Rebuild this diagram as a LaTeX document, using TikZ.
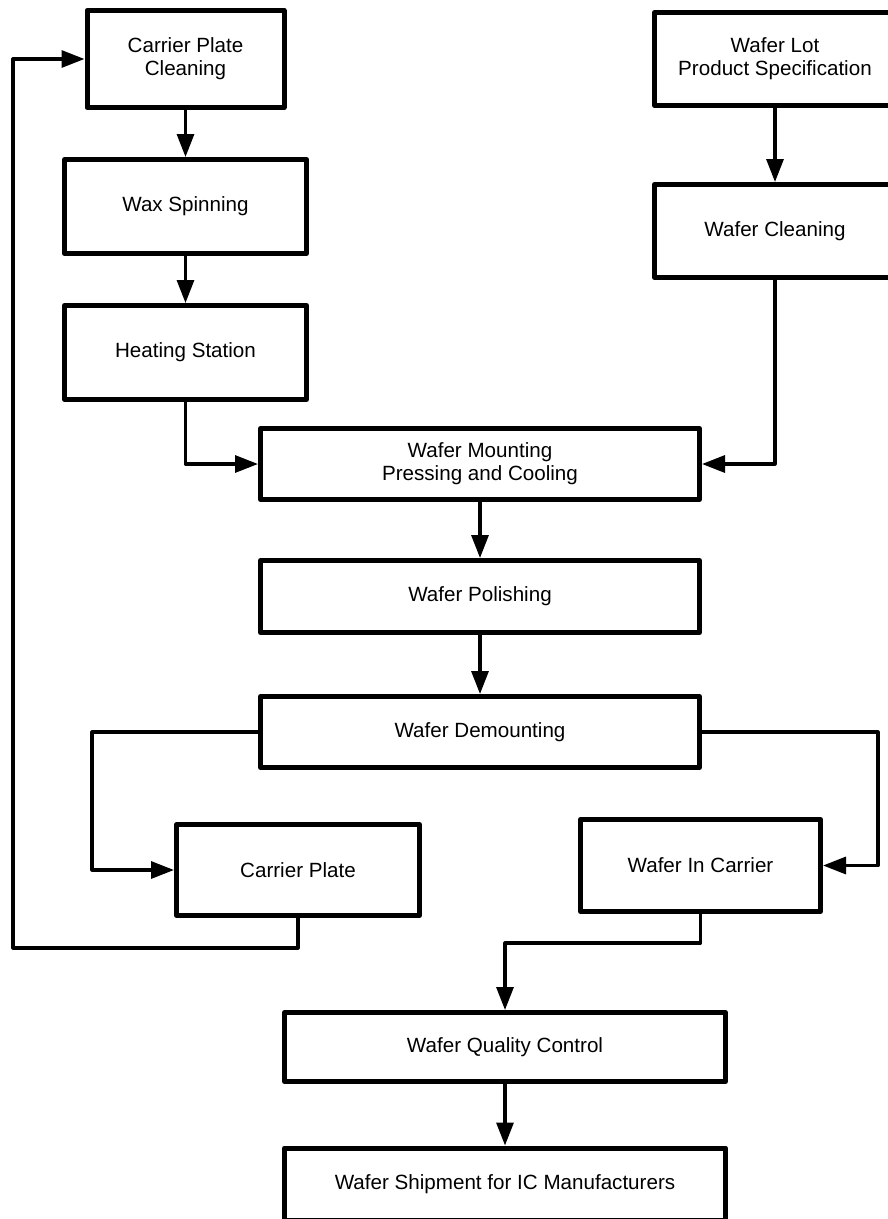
\documentclass[tikz,border=0pt]{standalone}
\usepackage{fontspec}
\setmainfont{Liberation Sans}
\usetikzlibrary{arrows.meta}
\begin{document}
\begin{tikzpicture}[x=1pt,y=-1pt,
  box/.style={draw, line width=5pt, line join=round, inner sep=0pt, align=center,
              font=\fontsize{20.6}{23}\selectfont},
  link/.style={line width=3.2pt, line join=round, -{Triangle[length=23pt,width=17pt]}}]
\useasboundingbox (0,0) rectangle (888,1219);
\clip (0,0) rectangle (888,1219);
% boxes
\node[box, minimum width=197pt, minimum height=97pt] (cpc) at (185.5,59) {Carrier Plate\\Cleaning};
\node[box, minimum width=242pt, minimum height=94pt] (ws) at (185.5,206.5) {Wax Spinning};
\node[box, minimum width=242pt, minimum height=94pt] (hs) at (185.5,352.5) {Heating Station};
\node[box, minimum width=241pt, minimum height=93pt] (wl) at (775,59) {Wafer Lot\\Product Specification};
\node[box, minimum width=241pt, minimum height=93pt] (wc) at (775,231) {Wafer Cleaning};
\node[box, minimum width=439pt, minimum height=71pt] (wm) at (480,464) {Wafer Mounting\\Pressing and Cooling};
\node[box, minimum width=439pt, minimum height=72pt] (wp) at (480,596.5) {Wafer Polishing};
\node[box, minimum width=439pt, minimum height=71pt] (wd) at (480,732) {Wafer Demounting};
\node[box, minimum width=243pt, minimum height=91pt] (cp) at (298,870) {Carrier Plate};
\node[box, minimum width=240pt, minimum height=92pt] (wic) at (700.5,865.5) {Wafer In Carrier};
\node[box, minimum width=441pt, minimum height=69pt] (qc) at (505,1047) {Wafer Quality Control};
\node[box, minimum width=441pt, minimum height=72pt] (sh) at (505,1184) {Wafer Shipment for IC Manufacturers};
% bend points
\coordinate (bendL) at (92,800);
\coordinate (bendR) at (878,800);
\coordinate (loopB) at (13,948);
\coordinate (midQ) at (600,943);
% connectors
\draw[link] (cpc.south) -- (ws.north);
\draw[link] (ws.south) -- (hs.north);
\draw[link] (hs.south) |- (wm.west);
\draw[link] (wl.south) -- (wc.north);
\draw[link] (wc.south) |- (wm.east);
\draw[link] (wm.south) -- (wp.north);
\draw[link] (wp.south) -- (wd.north);
\draw[link] (wd.west) -| (bendL) |- (cp.west);
\draw[link] (wd.east) -| (bendR) |- (wic.east);
\draw[link] (cp.south) |- (loopB) |- (cpc.west);
\draw[link] (wic.south) |- (midQ) -| (qc.north);
\draw[link] (qc.south) -- (sh.north);
\end{tikzpicture}
\end{document}
